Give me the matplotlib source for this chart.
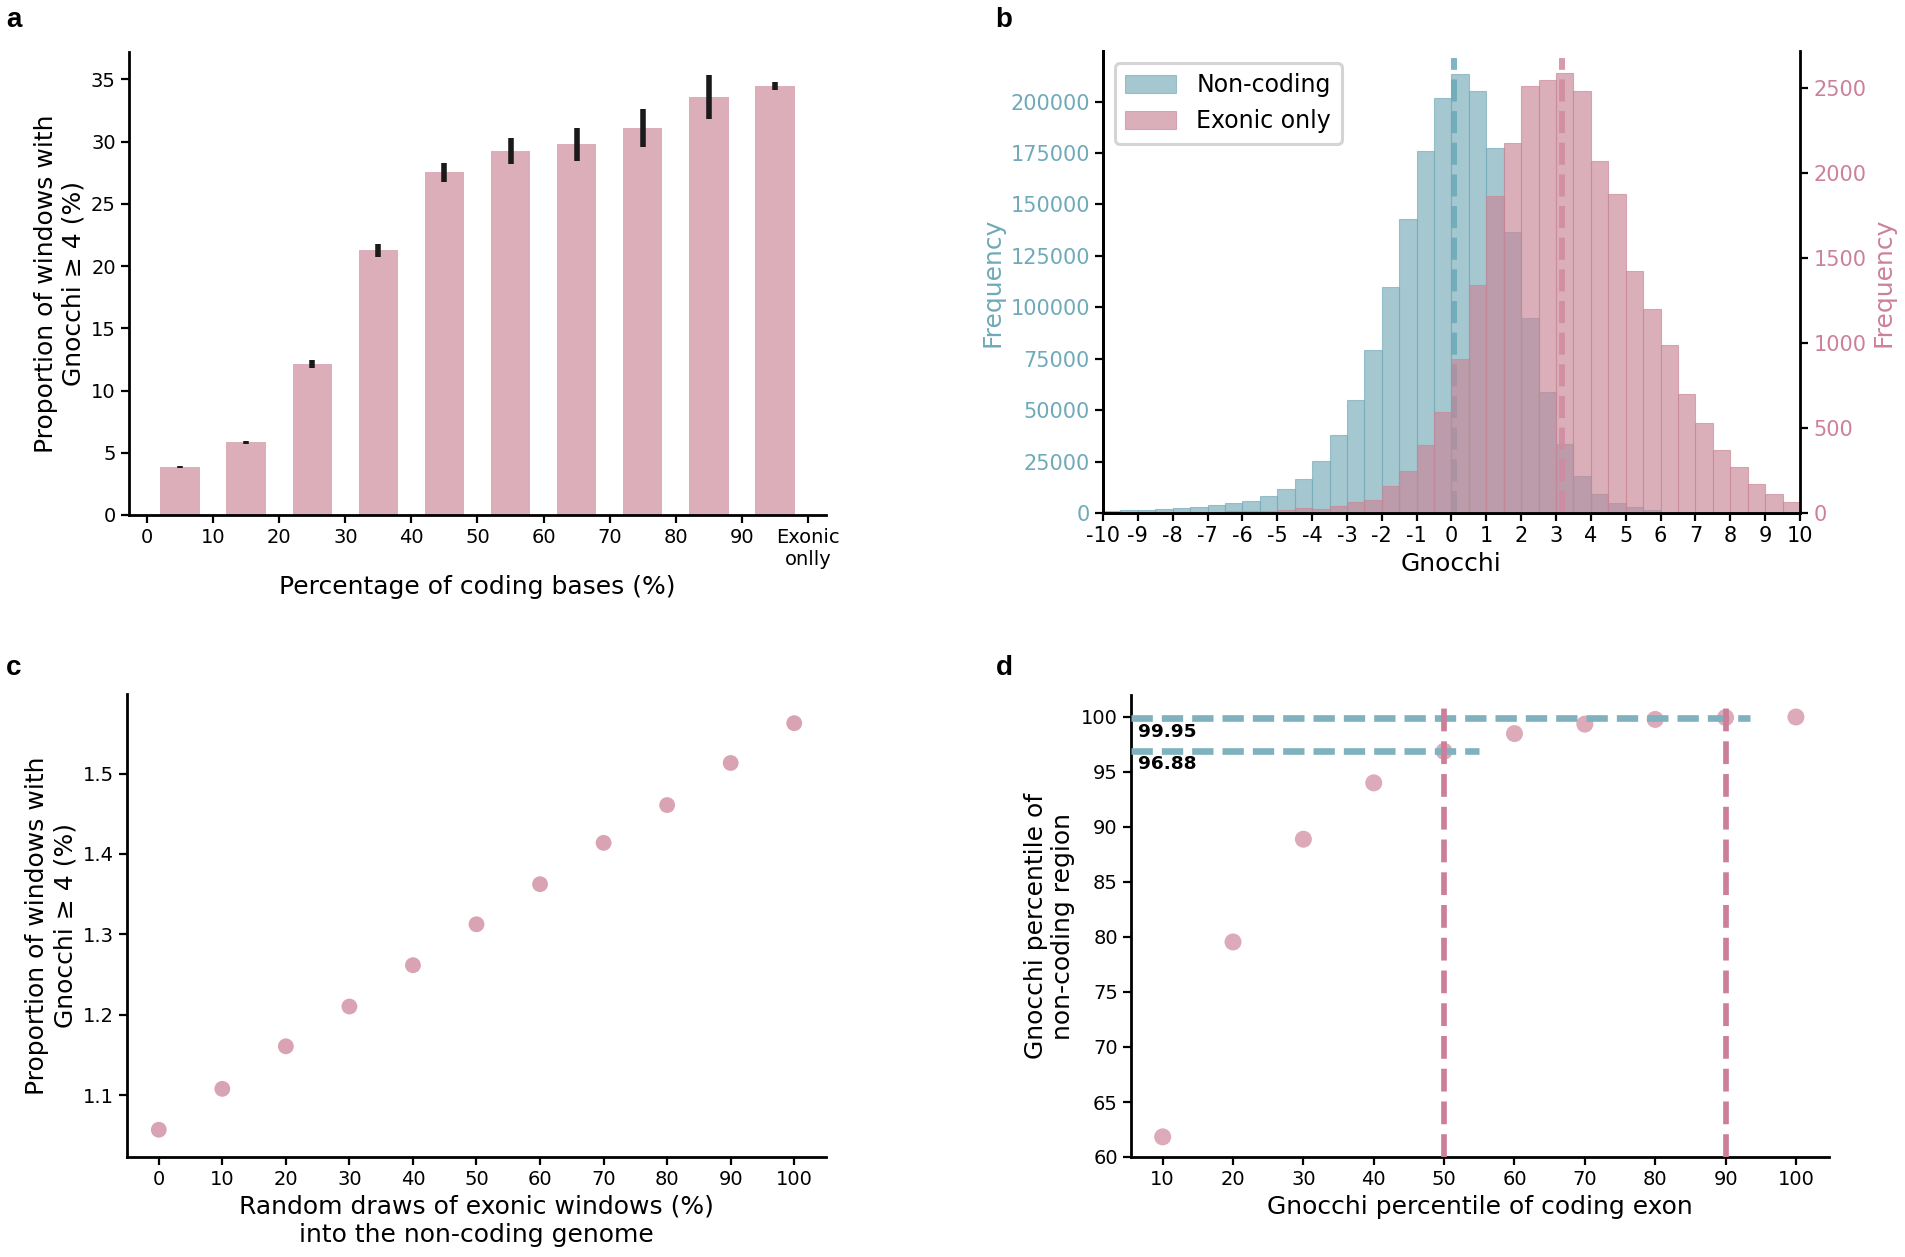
import matplotlib
matplotlib.use("Agg")
import matplotlib.pyplot as plt
import numpy as np

plt.rcParams['font.family'] = ['DejaVu Sans']

# ---------------- data ----------------
# panel a
coding_pct = [5, 15, 25, 35, 45, 55, 65, 75, 85, 95]
prop_gnocchi4 = [3.84, 5.84, 12.10, 21.28, 27.53, 29.25, 29.79, 31.09, 33.60, 34.49]
err_low = [3.78, 5.72, 11.85, 20.70, 26.74, 28.17, 28.45, 29.56, 31.79, 34.14]
err_high = [3.92, 5.97, 12.42, 21.75, 28.29, 30.29, 31.12, 32.64, 35.34, 34.81]
a_ticks = [0, 10, 20, 30, 40, 50, 60, 70, 80, 90, 100]
a_ticklabels = ['0', '10', '20', '30', '40', '50', '60', '70', '80', '90', 'Exonic\nonlly']

# panel b
bin_edges = list(np.arange(-10, 10.01, 0.5))
noncoding_counts = [800, 1300, 1300, 2000, 2300, 3000, 3800, 4800, 6000, 8500,
                    11700, 16700, 25200, 37700, 55000, 79200, 110000, 143000, 175800, 201700,
                    213600, 205000, 177300, 136400, 94700, 58600, 33400, 18200, 9400, 5000,
                    2700, 1300, 700, 400, 250, 150, 100, 60, 40, 20]
exonic_counts = [2, 3, 3, 4, 4, 5, 5, 10, 12, 14,
                 16, 28, 23, 44, 63, 79, 160, 247, 403, 596,
                 905, 1345, 1865, 2181, 2512, 2549, 2588, 2484, 2074, 1878,
                 1427, 1203, 989, 703, 531, 372, 270, 172, 112, 63]
noncoding_median = 0.08
exonic_median = 3.16
b_ticks = list(range(-10, 11))
b_ticklabels = [str(t) for t in b_ticks]

# panel c
draw_pct = [0, 10, 20, 30, 40, 50, 60, 70, 80, 90, 100]
prop_c = [1.0569, 1.1078, 1.1607, 1.2102, 1.2616, 1.3125, 1.3624, 1.4138, 1.4608, 1.5132, 1.5627]

# panel d
exon_pct = [10, 20, 30, 40, 50, 60, 70, 80, 90, 100]
noncoding_pct = [61.83, 79.55, 88.89, 94.01, 96.88, 98.49, 99.35, 99.78, 99.95, 100.0]
hline_vals = [99.95, 96.88]
hline_ends = [93.5, 55.0]
vline_vals = [50, 90]

# ---------------- style ----------------
PINK_BAR = '#dbaeb9'
BLUE = '#74aab8'
PINK = '#c98596'
BLUE_TXT = '#6eaab9'
PINK_TXT = '#cc8199'
TICK = 14
LABEL = 18


def style(ax, spines=('left', 'bottom')):
    for s in ['top', 'right', 'left', 'bottom']:
        ax.spines[s].set_visible(s in spines)
        ax.spines[s].set_linewidth(2)
    ax.tick_params(width=1.6, length=6, labelsize=TICK)


fig = plt.figure(figsize=(19.06, 12.57), dpi=100)
W, H = 1906, 1257


def axes_px(l, t, r, b):
    return fig.add_axes([l / W, 1 - b / H, (r - l) / W, (b - t) / H])


# ---------- panel a ----------
ax = axes_px(129, 52, 826, 515)
yerr = [np.array(prop_gnocchi4) - np.array(err_low), np.array(err_high) - np.array(prop_gnocchi4)]
ax.bar(coding_pct, prop_gnocchi4, width=6, color=PINK_BAR)
ax.errorbar(coding_pct, prop_gnocchi4, yerr=yerr, fmt='none', ecolor='#1a1a1a', elinewidth=4, capsize=0)
ax.set_xlim(-2.75, 102.75)
ax.set_ylim(0, 37.2)
ax.set_xticks(a_ticks)
ax.set_xticklabels(a_ticklabels)
ax.set_yticks(range(0, 36, 5))
style(ax)
ax.set_xlabel('Percentage of coding bases (%)', fontsize=LABEL)
ax.set_ylabel('Proportion of windows with\nGnocchi \u2265 4 (%)', fontsize=LABEL)

# ---------- panel b ----------
axb = axes_px(1103, 51, 1800, 513)
axb.bar(bin_edges[:-1], noncoding_counts, width=0.5, align='edge', color=BLUE, alpha=0.65,
        edgecolor=BLUE, linewidth=0.8, label='Non-coding')
axb.axvline(noncoding_median, color='#6aa9b9', ls='--', lw=4.3, alpha=0.85, ymax=0.985)
axb.set_xlim(-10, 10)
axb.set_ylim(0, 224600)
axb.set_yticks(range(0, 200001, 25000))
axb.set_xticks(b_ticks)
axb.set_xticklabels(b_ticklabels)
style(axb)
axb.tick_params(labelsize=15)
axb.tick_params(axis='y', labelcolor=BLUE_TXT)
axb.set_ylabel('Frequency', fontsize=LABEL, color=BLUE_TXT)
axb.set_xlabel('Gnocchi', fontsize=LABEL)

axb2 = axb.twinx()
axb2.bar(bin_edges[:-1], exonic_counts, width=0.5, align='edge', color=PINK, alpha=0.65,
         edgecolor=PINK, linewidth=0.8, label='Exonic only')
axb2.axvline(exonic_median, color='#d08aa0', ls='--', lw=4.3, alpha=0.85, ymax=0.985)
axb2.set_ylim(0, 2720)
axb2.set_yticks(range(0, 2501, 500))
style(axb2, spines=('left', 'right', 'bottom'))
axb2.tick_params(labelsize=15)
axb2.tick_params(axis='y', labelcolor=PINK_TXT)
axb2.set_ylabel('Frequency', fontsize=LABEL, color=PINK_TXT)
h1, l1 = axb.get_legend_handles_labels()
h2, l2 = axb2.get_legend_handles_labels()
leg = axb2.legend(h1 + h2, l1 + l2, loc='upper left', fontsize=17, framealpha=1,
                  edgecolor='#d4d4d4', fancybox=True, handlelength=2.15, handleheight=0.8,
                  handletextpad=0.85, labelspacing=0.5, borderpad=0.45)
leg.get_frame().set_linewidth(2.2)

# ---------- panel c ----------
axc = axes_px(127, 694, 826, 1157)
axc.scatter(draw_pct, prop_c, s=130, color='#d9a3b3', edgecolors='none')
axc.set_xlim(-5, 105)
axc.set_ylim(1.023, 1.599)
axc.set_xticks(draw_pct)
axc.set_yticks([1.1, 1.2, 1.3, 1.4, 1.5])
style(axc)
axc.set_xlabel('Random draws of exonic windows (%)\ninto the non-coding genome', fontsize=LABEL)
axc.set_ylabel('Proportion of windows with\nGnocchi \u2265 4 (%)', fontsize=LABEL)

# ---------- panel d ----------
axd = axes_px(1131, 695, 1829, 1157)
axd.scatter(exon_pct, noncoding_pct, s=150, color='#dcaab8', edgecolors='none', zorder=2)
axd.set_xlim(5.5, 104.7)
axd.set_ylim(60, 102)
for yv, xe in zip(hline_vals, hline_ends):
    axd.hlines(yv, 5.5, xe, colors='#7fb2be', linestyles=(0, (3.2, 1.35)), lw=4.8, zorder=3)
for xv in vline_vals:
    axd.vlines(xv, 60, 101.3, colors='#cc7f98', linestyles=(0, (4.0, 1.75)), lw=4.1, zorder=3)
axd.text(6.45, 98.63, '99.95', fontsize=13.3, fontweight='bold', ha='left', va='center')
axd.text(6.45, 95.69, '96.88', fontsize=13.3, fontweight='bold', ha='left', va='center')
axd.set_xticks(exon_pct)
axd.set_yticks(range(60, 101, 5))
style(axd)
axd.set_xlabel('Gnocchi percentile of coding exon', fontsize=LABEL)
axd.set_ylabel('Gnocchi percentile of\nnon-coding region', fontsize=LABEL)

# panel letters
for letter, (x, y) in zip('abcd', [(14, 20), (1004, 20), (14, 668), (1004, 668)]):
    fig.text(x / W, 1 - y / H, letter, fontsize=20, fontweight='bold', ha='center', va='center',
             family=['Liberation Sans', 'DejaVu Sans'])

fig.savefig('out.png', dpi=100)
